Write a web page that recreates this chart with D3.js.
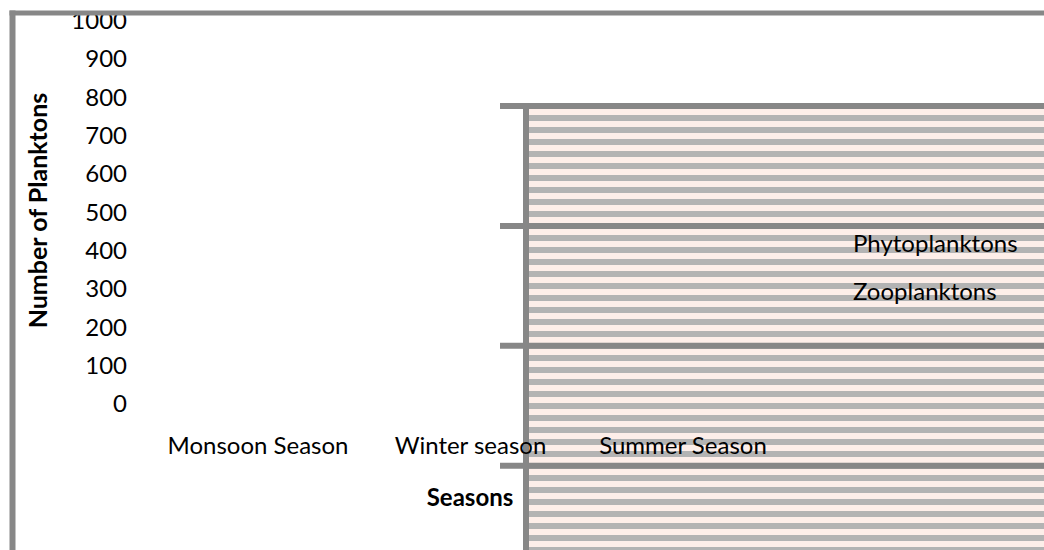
<!DOCTYPE html>
<html>
<head>
<meta charset="utf-8">
<script src="https://cdn.jsdelivr.net/npm/d3@7"></script>
<style>
  html, body { margin: 0; padding: 0; background: #ffffff; }
  svg { display: block; }
  text { font-family: Lato, "Open Sans", sans-serif; fill: #000; }
</style>
</head>
<body>
<div id="chart"></div>
<script>
// ---- data ----
const yTicks = [0, 100, 200, 300, 400, 500, 600, 700, 800, 900, 1000];
const categories = ["Monsoon Season", "Winter season", "Summer Season"];
const seriesNames = ["Phytoplanktons", "Zooplanktons"];
const panelRules = [0, 1, 2, 3];          // horizontal rules in the hatched panel
const xTitle = "Seasons";
const yTitle = "Number of Planktons";

// ---- layout ----
const W = 1044, H = 550;
const frameColor = "#878787";

const svg = d3.select("#chart").append("svg")
  .attr("width", W).attr("height", H);

const defs = svg.append("defs");
const pat = defs.append("pattern")
  .attr("id", "stripes")
  .attr("patternUnits", "userSpaceOnUse")
  .attr("x", 0).attr("y", 109)
  .attr("width", 12).attr("height", 12);
pat.append("rect").attr("x", 0).attr("y", 0).attr("width", 12).attr("height", 6).attr("fill", "#fdeee9");
pat.append("rect").attr("x", 0).attr("y", 6).attr("width", 12).attr("height", 6).attr("fill", "#b3b3b3");

defs.append("clipPath").attr("id", "topclip")
  .append("rect").attr("x", 0).attr("y", 15).attr("width", W).attr("height", H);

// scales
const y = d3.scaleLinear().domain([0, 1000]).range([403.5, 20.2]);
const x = d3.scaleBand().domain(categories).range([151.75, 789.25]).padding(0);
const ruleY = d3.scaleLinear().domain([0, 3]).range([106, 465.7]);
const legendY = d3.scalePoint().domain(seriesNames).range([252, 300]);

// hatched panel
svg.append("rect")
  .attr("x", 529).attr("y", 109)
  .attr("width", W - 529).attr("height", H - 109)
  .attr("fill", "url(#stripes)");

// panel rules
svg.append("g").selectAll("line").data(panelRules).join("line")
  .attr("x1", 500).attr("x2", W)
  .attr("y1", d => ruleY(d)).attr("y2", d => ruleY(d))
  .attr("stroke", frameColor).attr("stroke-width", 6);

svg.append("line")
  .attr("x1", 526).attr("x2", 526)
  .attr("y1", ruleY(0) - 3).attr("y2", H)
  .attr("stroke", frameColor).attr("stroke-width", 6);

// y axis labels
const yAxis = svg.append("g")
  .attr("clip-path", "url(#topclip)")
  .append("g")
  .attr("transform", "translate(127,0)")
  .call(d3.axisLeft(y).tickValues(yTicks).tickSize(0).tickPadding(0).tickFormat(d3.format("d")));
yAxis.select(".domain").remove();
yAxis.selectAll("text")
  .attr("dy", "0.35em")
  .style("font-family", "Lato, 'Open Sans', sans-serif")
  .style("font-size", "24px")
  .attr("fill", "#000");

// category labels
svg.append("g").selectAll("text").data(categories).join("text")
  .attr("x", d => x(d) + x.bandwidth() / 2)
  .attr("y", 454)
  .attr("text-anchor", "middle")
  .style("font-size", "24px")
  .text(d => d);

// axis titles
svg.append("text")
  .attr("x", 470).attr("y", 506)
  .attr("text-anchor", "middle")
  .style("font-size", "24px").style("font-weight", "bold")
  .text(xTitle);

svg.append("text")
  .attr("transform", "translate(47,210.5) rotate(-90)")
  .attr("text-anchor", "middle")
  .style("font-size", "25px").style("font-weight", "bold")
  .text(yTitle);

// legend labels
svg.append("g").selectAll("text").data(seriesNames).join("text")
  .attr("x", 853)
  .attr("y", d => legendY(d))
  .style("font-size", "24px")
  .text(d => d);

// outer frame
svg.append("line")
  .attr("x1", 9.5).attr("x2", W).attr("y1", 13).attr("y2", 13)
  .attr("stroke", frameColor).attr("stroke-width", 5);
svg.append("line")
  .attr("x1", 12.5).attr("x2", 12.5).attr("y1", 10.5).attr("y2", H)
  .attr("stroke", frameColor).attr("stroke-width", 6);
</script>
</body>
</html>
